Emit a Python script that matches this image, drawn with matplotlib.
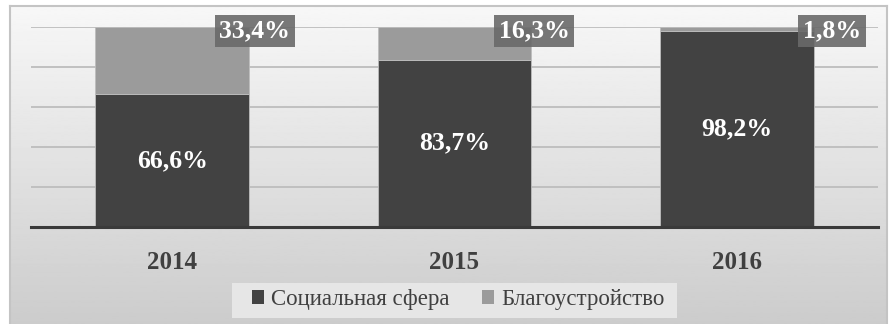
import numpy as np
import matplotlib.pyplot as plt
from matplotlib.patches import Patch, Rectangle

years = ["2014", "2015", "2016"]
social = [66.6, 83.7, 98.2]
improvement = [33.4, 16.3, 1.8]
series_names = ["Социальная сфера", "Благоустройство"]

plt.rcParams['font.family'] = ['Liberation Serif', 'DejaVu Serif']

W, H = 889, 324
fig = plt.figure(figsize=(W / 100, H / 100), dpi=100)
fig.patch.set_facecolor('white')

# chart area with a vertical grey gradient and thin frame
bg = fig.add_axes([10 / W, 0, 1 - 12 / W, 1 - 6 / H])
grad = np.linspace(0.97, 0.80, 256).reshape(-1, 1)
bg.imshow(grad, aspect='auto', cmap='gray', vmin=0, vmax=1,
          extent=[0, 1, 0, 1], origin='upper')
bg.set_xlim(0, 1)
bg.set_ylim(0, 1)
bg.set_xticks([])
bg.set_yticks([])
for s in bg.spines.values():
    s.set_color('#c4c4c4')
    s.set_linewidth(1.5)
bg.spines['bottom'].set_visible(False)

ax = fig.add_axes([31 / W, 1 - 227 / H, 847 / W, 200 / H])
ax.patch.set_alpha(0)
x = np.arange(len(years))
bw = 0.545
dark = '#424242'
light = '#9b9b9b'

ax.bar(x, social, bw, color=dark, zorder=2, edgecolor='#bdbdbd', linewidth=0.6)
ax.bar(x, improvement, bw, bottom=social, color=light, zorder=2,
       edgecolor='#bdbdbd', linewidth=0.6)

ax.set_xlim(-0.5, 2.5)
ax.set_ylim(0, 100)
ax.set_yticks([20, 40, 60, 80, 100])
ax.yaxis.grid(True, color='#bdbdbd', linewidth=1.3, zorder=1)
ax.tick_params(axis='y', length=0, labelleft=False)
ax.set_xticks(x)
ax.set_xticklabels(years, fontsize=18, fontweight='bold', color='#404040')
ax.tick_params(axis='x', length=0, pad=17)
for side in ['top', 'right', 'left']:
    ax.spines[side].set_visible(False)
ax.spines['bottom'].set_color('#3a3a3a')
ax.spines['bottom'].set_linewidth(2.2)
ax.spines['bottom'].set_zorder(3)

# values inside the dark segments
for i, v in enumerate(social):
    ax.text(x[i], v / 2, f"{v:.1f}%".replace('.', ','), ha='center', va='center',
            fontsize=18.5, fontweight='bold', color='white', zorder=4)

# callouts for the light segments near the top right of each bar
shift = [0.02, 0.01, 0.065]
for i, v in enumerate(improvement):
    ax.text(x[i] + bw / 2 + shift[i], 98, f"{v:.1f}%".replace('.', ','),
            ha='center', va='center', fontsize=18.5, fontweight='bold',
            color='white', zorder=5,
            bbox=dict(boxstyle='square,pad=0.18', facecolor='#6a6a6a',
                      edgecolor='none', alpha=0.9))

# legend panel
fig.patches.append(Rectangle((232 / W, 1 - 318 / H), 445 / W, 35 / H,
                             transform=fig.transFigure, facecolor='#e6e6e6',
                             edgecolor='none', zorder=1))
handles = [Patch(facecolor=dark), Patch(facecolor=light)]
leg = fig.legend(handles, series_names, loc='center',
                 bbox_to_anchor=(458 / W, 1 - 300 / H), ncol=2,
                 frameon=False, fontsize=16.5,
                 handlelength=0.55, handleheight=0.55, handletextpad=0.3,
                 columnspacing=1.4)
for t in leg.get_texts():
    t.set_color('#404040')

fig.savefig('out.png', dpi=100)
